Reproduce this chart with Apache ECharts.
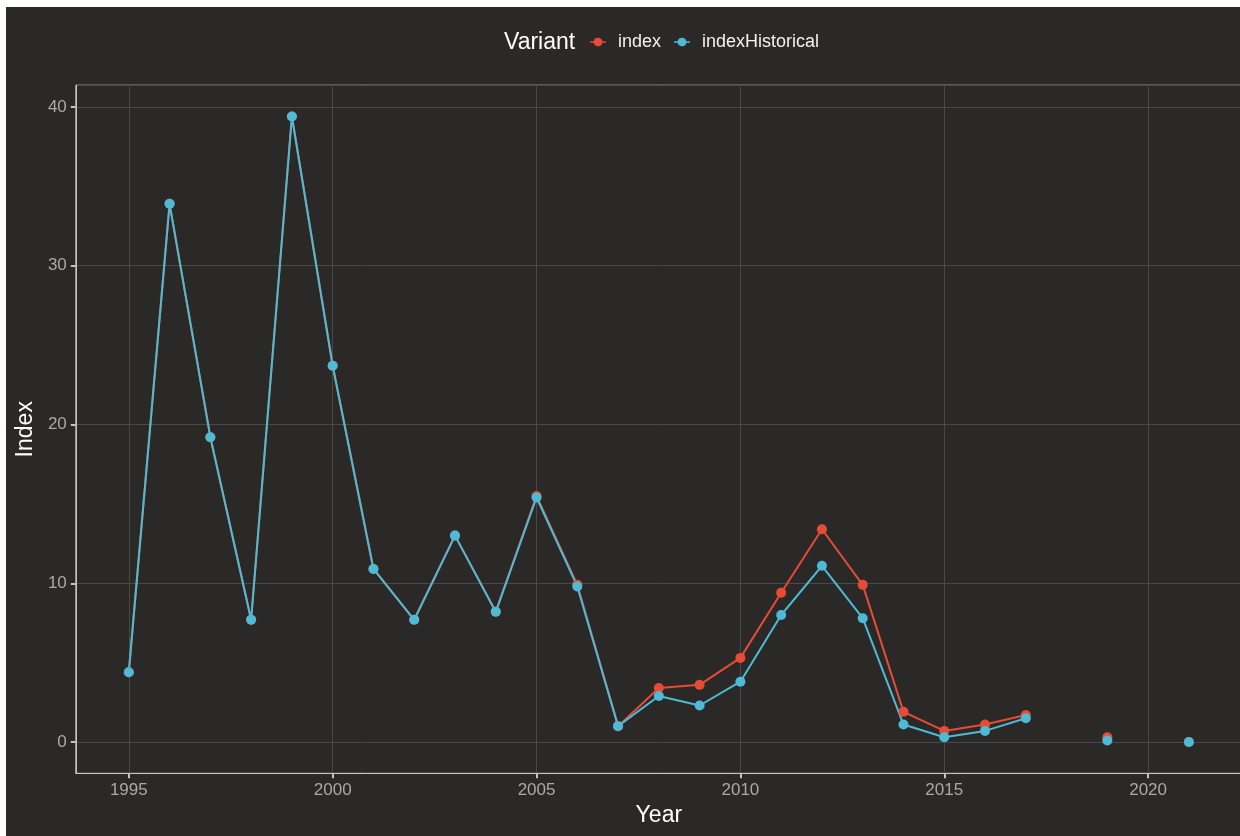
<!DOCTYPE html>
<html>
<head>
<meta charset="utf-8">
<script src="https://cdn.jsdelivr.net/npm/echarts@6/dist/echarts.min.js"></script>
<style>
  html, body { margin: 0; padding: 0; background: #ffffff; width: 1240px; height: 836px; overflow: hidden; position: relative; }
  #chart { position: absolute; left: 6px; top: 7px; width: 1250px; height: 829px; background: #2b2928; }
</style>
</head>
<body>
<div id="chart"></div>
<script>
const years = [1995, 1996, 1997, 1998, 1999, 2000, 2001, 2002, 2003, 2004,
               2005, 2006, 2007, 2008, 2009, 2010, 2011, 2012, 2013, 2014,
               2015, 2016, 2017, 2018, 2019, 2020, 2021];
const indexValues = [4.4, 33.9, 19.2, 7.7, 39.4, 23.7, 10.9, 7.7, 13.0, 8.2,
                     15.5, 9.9, 1.0, 3.4, 3.6, 5.3, 9.4, 13.4, 9.9, 1.9,
                     0.7, 1.1, 1.7, null, 0.3, null, 0.0];
const indexHistoricalValues = [4.4, 33.9, 19.2, 7.7, 39.4, 23.7, 10.9, 7.7, 13.0, 8.2,
                     15.4, 9.8, 1.0, 2.9, 2.3, 3.8, 8.0, 11.1, 7.8, 1.1,
                     0.3, 0.7, 1.5, null, 0.1, null, 0.0];
const seriesNames = ['index', 'indexHistorical'];
const legendTitle = 'Variant';
const xTitle = 'Year';
const yTitle = 'Index';

function pairs(vals) {
  return years.map((y, i) => [y, vals[i] === null ? '-' : vals[i]]);
}

const FONT = '"Liberation Sans", Arial, sans-serif';
const keyIcon = 'path://M0,4.3 H3.1 A4,4 0 0 1 10.9,4.3 H14 V5.7 H10.9 A4,4 0 0 1 3.1,5.7 H0 Z';
const BORDER = '#c4c4c4';

const chart = echarts.init(document.getElementById('chart'), null, { renderer: 'canvas' });
chart.setOption({
  animation: false,
  backgroundColor: '#2b2928',
  title: {
    text: legendTitle,
    left: 493, top: 19,
    textStyle: { color: '#ffffff', fontSize: 23, fontWeight: 'normal', fontFamily: FONT }
  },
  legend: {
    left: 579, top: 21,
    itemWidth: 16, itemHeight: 10, itemGap: 13,
    icon: keyIcon,
    data: seriesNames,
    formatter: n => '{t|' + n + '}',
    textStyle: {
      color: '#f2f2f2', fontSize: 18, fontFamily: FONT,
      rich: { t: { color: '#f2f2f2', fontSize: 18, fontFamily: FONT, padding: [0, 0, 0, 7] } }
    },
    selectedMode: false
  },
  grid: {
    left: 69, top: 78.2, width: 1166.9, height: 688.1,
    show: true, borderColor: BORDER, borderWidth: 1, backgroundColor: 'transparent',
    containLabel: false
  },
  xAxis: {
    type: 'value', min: 1993.7, max: 2022.3, splitNumber: 5,
    name: xTitle, nameLocation: 'middle', nameGap: 31,
    nameTextStyle: { color: '#ffffff', fontSize: 23, fontFamily: FONT },
    axisLine: { show: true, onZero: false, lineStyle: { color: BORDER, width: 1 } },
    axisTick: { show: true, length: 5, lineStyle: { color: BORDER, width: 2 } },
    axisLabel: {
      color: '#a9a9a9', fontSize: 17, fontFamily: FONT, margin: 9,
      showMinLabel: false, showMaxLabel: false,
      formatter: v => (Math.abs(v % 5) < 1e-9 ? String(v) : '')
    },
    splitLine: { show: true, lineStyle: { color: '#4a4848', width: 1 } }
  },
  yAxis: {
    type: 'value', min: -1.97, max: 41.37, splitNumber: 5,
    name: yTitle, nameLocation: 'middle', nameGap: 37, nameRotate: 90,
    nameTextStyle: { color: '#ffffff', fontSize: 23, fontFamily: FONT },
    axisLine: { show: true, onZero: false, lineStyle: { color: BORDER, width: 1 } },
    axisTick: { show: true, length: 5, lineStyle: { color: BORDER, width: 2 } },
    axisLabel: {
      color: '#a9a9a9', fontSize: 17, fontFamily: FONT, margin: 9,
      showMinLabel: false, showMaxLabel: false,
      formatter: v => (Math.abs(v % 10) < 1e-9 ? String(v) : '')
    },
    splitLine: { show: true, lineStyle: { color: '#4a4848', width: 1 } }
  },
  series: [
    {
      name: seriesNames[0], type: 'line', data: pairs(indexValues),
      connectNulls: false, symbol: 'circle', symbolSize: 10,
      itemStyle: { color: '#E64B35' },
      lineStyle: { color: '#E64B35', width: 2 },
      emphasis: { disabled: true }
    },
    {
      name: seriesNames[1], type: 'line', data: pairs(indexHistoricalValues),
      connectNulls: false, symbol: 'circle', symbolSize: 10,
      itemStyle: { color: '#4DBBD5' },
      lineStyle: { color: '#4DBBD5', width: 2 },
      emphasis: { disabled: true }
    }
  ]
});
</script>
</body>
</html>
